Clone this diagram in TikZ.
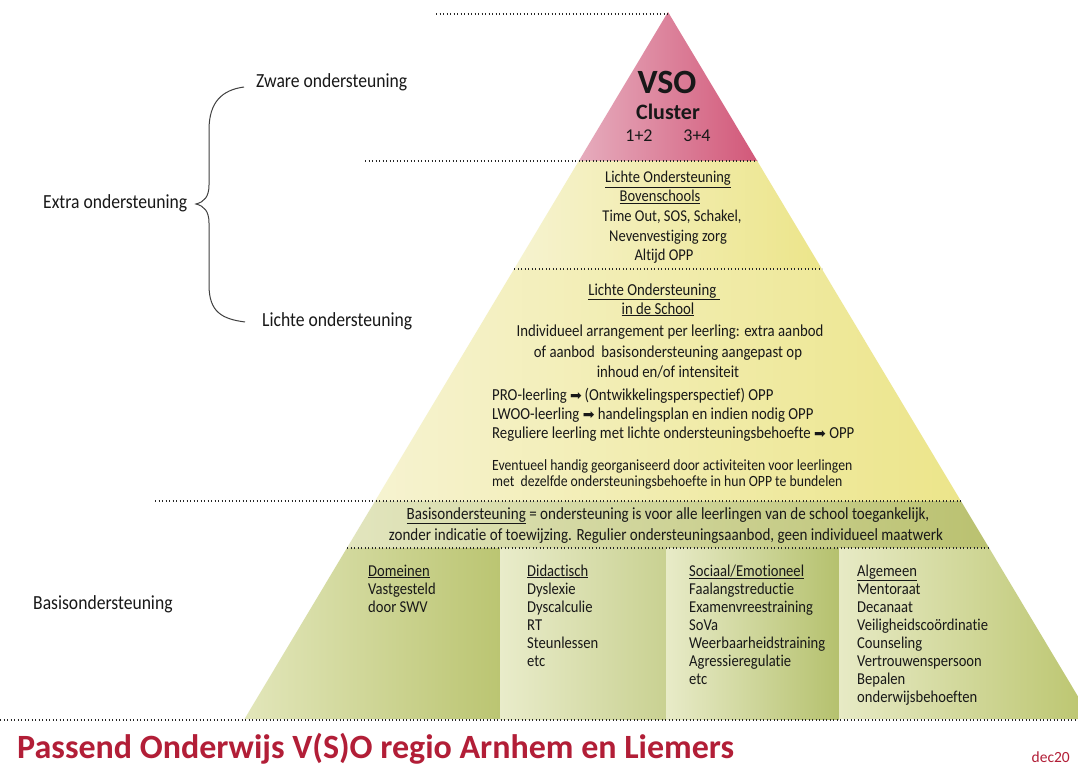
\documentclass[tikz,border=0pt]{standalone}
\usepackage{fontspec}
\setmainfont{Carlito}
\newfontfamily\narrow{Carlito}[FakeStretch=0.88, Ligatures=NoCommon]
\newfontfamily\symfont{DejaVu Sans}
\newcommand{\myfs}[1]{\fontsize{#1}{#1}\selectfont}
\newcommand{\pyarrow}{{\symfont\myfs{14}➡}}
\definecolor{redL}{RGB}{230,172,189}
\definecolor{redR}{RGB}{210,88,121}
\definecolor{yelL}{RGB}{246,243,208}
\definecolor{yelR}{RGB}{236,229,138}
\definecolor{bandL}{RGB}{226,229,190}
\definecolor{bandR}{RGB}{186,193,112}
\definecolor{c1L}{RGB}{226,230,186}
\definecolor{c1R}{RGB}{187,197,114}
\definecolor{c2L}{RGB}{233,236,202}
\definecolor{c2R}{RGB}{201,209,146}
\definecolor{c3L}{RGB}{232,235,200}
\definecolor{c3R}{RGB}{181,193,110}
\definecolor{c4L}{RGB}{231,234,197}
\definecolor{c4R}{RGB}{187,197,110}
\definecolor{footred}{RGB}{178,30,55}
\definecolor{ink}{RGB}{24,24,24}
\begin{document}
\begin{tikzpicture}[x=1pt,y=-1pt,
  dotline/.style={draw=black!85, line width=1.1pt, dash pattern=on 1.3pt off 2.2pt},
  lbl/.style={inner sep=0pt, anchor=base west, font=\narrow\myfs{20}, text=ink},
  ctrtop/.style={inner sep=0pt, anchor=base, font=\narrow\myfs{16.5}, text=ink},
  ctr/.style={inner sep=0pt, anchor=base, font=\narrow\myfs{16.8}, text=ink},
  lft/.style={inner sep=0pt, anchor=base west, font=\narrow\myfs{16.8}, text=ink},
  small/.style={inner sep=0pt, anchor=base west, font=\narrow\myfs{15.6}, text=ink},
  bandtxt/.style={inner sep=0pt, anchor=base, font=\narrow\myfs{17.1}, text=ink},
  col/.style={inner sep=0pt, anchor=base west, font=\narrow\myfs{16.6}, text=ink},
  brace/.style={draw=black!75, line width=1pt}
]
\useasboundingbox (0,0) rectangle (1078,767);
\fill[white] (0,0) rectangle (1078,767);

% pyramid layers
\shade[left color=redL, right color=redR] (668,12) -- (757.25,161) -- (578.75,161) -- cycle;
\shade[left color=yelL, right color=yelR] (578.75,161) -- (757.25,161) -- (821.9,269) -- (514.1,269) -- cycle;
\shade[left color=yelL, right color=yelR] (514.1,269) -- (821.9,269) -- (960.9,501) -- (375.1,501) -- cycle;
\shade[left color=bandL, right color=bandR] (375.1,501) -- (960.9,501) -- (989.1,548) -- (346.9,548) -- cycle;
\shade[left color=c1L, right color=c1R] (346.9,548) -- (500,548) -- (500,719) -- (244.5,719) -- cycle;
\shade[left color=c2L, right color=c2R] (500,548) rectangle (666,719);
\shade[left color=c3L, right color=c3R] (666,548) rectangle (839,719);
\shade[left color=c4L, right color=c4R] (839,548) -- (989.1,548) -- (1091.5,719) -- (839,719) -- cycle;

% dotted separators
\draw[dotline] (436,14) -- (668,14);
\draw[dotline] (365,161) -- (757,161);
\draw[dotline] (514,269) -- (822,269);
\draw[dotline] (155,501) -- (961,501);
\draw[dotline] (347,548) -- (989,548);
\draw[dotline] (0,720) -- (1078,720);

% top
\node[inner sep=0pt, anchor=base, font=\bfseries\myfs{34}, text=ink] (vso) at (667,94) {VSO};
\node[inner sep=0pt, anchor=base, font=\bfseries\myfs{22}, text=ink] (cluster) at (668,120) {Cluster};
\node[inner sep=0pt, anchor=base, font=\myfs{18}, text=ink] (c12) at (639,142) {1+2};
\node[inner sep=0pt, anchor=base, font=\myfs{18}, text=ink] (c34) at (697,142) {3+4};

% section 2
\node[ctrtop] (b1) at (668,183) {\underline{Lichte Ondersteuning}};
\node[ctrtop] (b2) at (660,202) {\underline{Bovenschools}};
\node[ctrtop] (b3) at (672,222) {Time Out, SOS, Schakel,};
\node[ctrtop] (b4) at (668,242) {Nevenvestiging zorg};
\node[ctrtop] (b5) at (664,261) {Altijd OPP};

% section 3
\node[ctr] (s1) at (654,295) {\underline{Lichte Ondersteuning\ }};
\node[ctr] (s2) at (658,314) {\underline{in de School}};
\node[ctr] (s3) at (670,336) {Individueel arrangement per leerling: extra aanbod};
\node[ctr] (s4) at (668,357) {of aanbod\ \ basisondersteuning aangepast op};
\node[ctr] (s5) at (668,377) {inhoud en/of intensiteit};
\node[lft] (s6) at (492,400) {PRO-leerling \pyarrow\,(Ontwikkelingsperspectief) OPP};
\node[lft] (s7) at (492,419) {LWOO-leerling \pyarrow\ handelingsplan en indien nodig OPP};
\node[lft] (s8) at (492,438) {Reguliere leerling met lichte ondersteuningsbehoefte \pyarrow\ OPP};
\node[small] (s9) at (492,470) {Eventueel handig georganiseerd door activiteiten voor leerlingen};
\node[small] (s10) at (492,486) {met\ \ dezelfde ondersteuningsbehoefte in hun OPP te bundelen};

% band
\node[bandtxt] (band1) at (668,519) {\underline{Basisondersteuning} = ondersteuning is voor alle leerlingen van de school toegankelijk,};
\node[bandtxt] (band2) at (666,540) {zonder indicatie of toewijzing. Regulier ondersteuningsaanbod, geen individueel maatwerk};

% columns
\foreach \t [count=\i from 0] in {\underline{Domeinen}, Vastgesteld, door SWV}
  \node[col] (ca-\i) at (368, 576+18*\i) {\t};
\foreach \t [count=\i from 0] in {\underline{Didactisch}, Dyslexie, Dyscalculie, RT, Steunlessen, etc}
  \node[col] (cb-\i) at (527, 576+18*\i) {\t};
\foreach \t [count=\i from 0] in {\underline{Sociaal/Emotioneel}, Faalangstreductie, Examenvreestraining, SoVa, Weerbaarheidstraining, Agressieregulatie, etc}
  \node[col] (cc-\i) at (689, 576+18*\i) {\t};
\foreach \t [count=\i from 0] in {\underline{Algemeen}, Mentoraat, Decanaat, Veiligheidscoördinatie, Counseling, Vertrouwenspersoon, Bepalen, onderwijsbehoeften}
  \node[col] (cd-\i) at (857, 576+18*\i) {\t};

% left labels
\node[lbl] (zware) at (256,88) {Zware ondersteuning};
\node[lbl] (extra) at (43,209) {Extra ondersteuning};
\node[lbl] (lichte) at (262,326) {Lichte ondersteuning};
\node[lbl] (basis) at (33,609) {Basisondersteuning};

% brace
\draw[brace] (244,87) .. controls (222,90) and (209,102) .. (209,130) -- (209,185)
  .. controls (209,197) and (204,202) .. (196,204)
  .. controls (204,206) and (209,211) .. (209,223) -- (209,285)
  .. controls (209,312) and (222,319) .. (245,322);

% footer
\node[inner sep=0pt, anchor=base west, font=\bfseries\myfs{34}, text=footred] (title) at (17,758) {Passend Onderwijs V(S)O regio Arnhem en Liemers};
\node[inner sep=0pt, anchor=base east, font=\myfs{15.5}, text=footred] (date) at (1070,762) {dec20};
\end{tikzpicture}
\end{document}
